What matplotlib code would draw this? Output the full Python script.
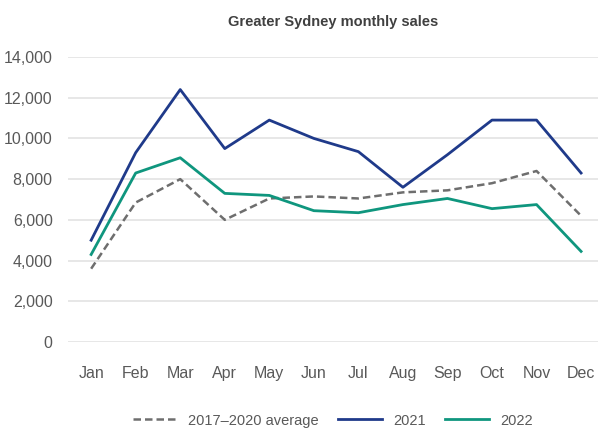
import numpy as np
import matplotlib.pyplot as plt
from matplotlib import font_manager

months = ["Jan", "Feb", "Mar", "Apr", "May", "Jun", "Jul", "Aug", "Sep", "Oct", "Nov", "Dec"]
avg_17_20 = [3600, 6850, 8000, 6000, 7050, 7150, 7050, 7350, 7450, 7800, 8400, 6200]
sales_2021 = [5000, 9300, 12400, 9500, 10900, 10000, 9350, 7600, 9200, 10900, 10900, 8300]
sales_2022 = [4300, 8300, 9050, 7300, 7200, 6450, 6350, 6750, 7050, 6550, 6750, 4450]
yticks = [0, 2000, 4000, 6000, 8000, 10000, 12000, 14000]

# narrow font if we have one
names = set(f.name for f in font_manager.fontManager.ttflist)
fam = "Liberation Sans Narrow" if "Liberation Sans Narrow" in names else "Liberation Sans"
plt.rcParams['font.family'] = [fam, 'DejaVu Sans']

fig = plt.figure(figsize=(5.98, 4.34), dpi=100)
ax = fig.add_axes([0.1137, 0.212, 0.8863, 0.6567])

x = np.arange(len(months))
ax.plot(x, avg_17_20, color="#6e6e6e", lw=1.8, ls=(0, (3, 1.6)), label="2017\u20132020 average")
ax.plot(x, sales_2021, color="#1f3a8a", lw=2.0, label="2021")
ax.plot(x, sales_2022, color="#0f967e", lw=2.0, label="2022")

ax.set_xlim(-0.52, 11.38)
ax.set_ylim(0, 14000)
ax.set_yticks(yticks)
ax.set_yticklabels(["{:,}".format(v) for v in yticks])
ax.set_xticks(x)
ax.set_xticklabels(months)
ax.grid(axis="y", color="#e3e3e3", lw=1.2)
ax.set_axisbelow(True)
for s in ax.spines.values():
    s.set_visible(False)
ax.tick_params(length=0, labelsize=11.5, colors="#595959")
ax.tick_params(axis="y", pad=11)
ax.tick_params(axis="x", pad=17)

fig.suptitle("Greater Sydney monthly sales", x=0.557, y=0.965, fontsize=10.5,
             fontweight="bold", color="#404040")

leg = fig.legend(loc="center", bbox_to_anchor=(0.557, 0.031), ncol=3, frameon=False,
                 fontsize=10.5, handlelength=3.0, columnspacing=1.35, handletextpad=0.75)
for t in leg.get_texts():
    t.set_color("#595959")

fig.savefig("out.png", dpi=100)
